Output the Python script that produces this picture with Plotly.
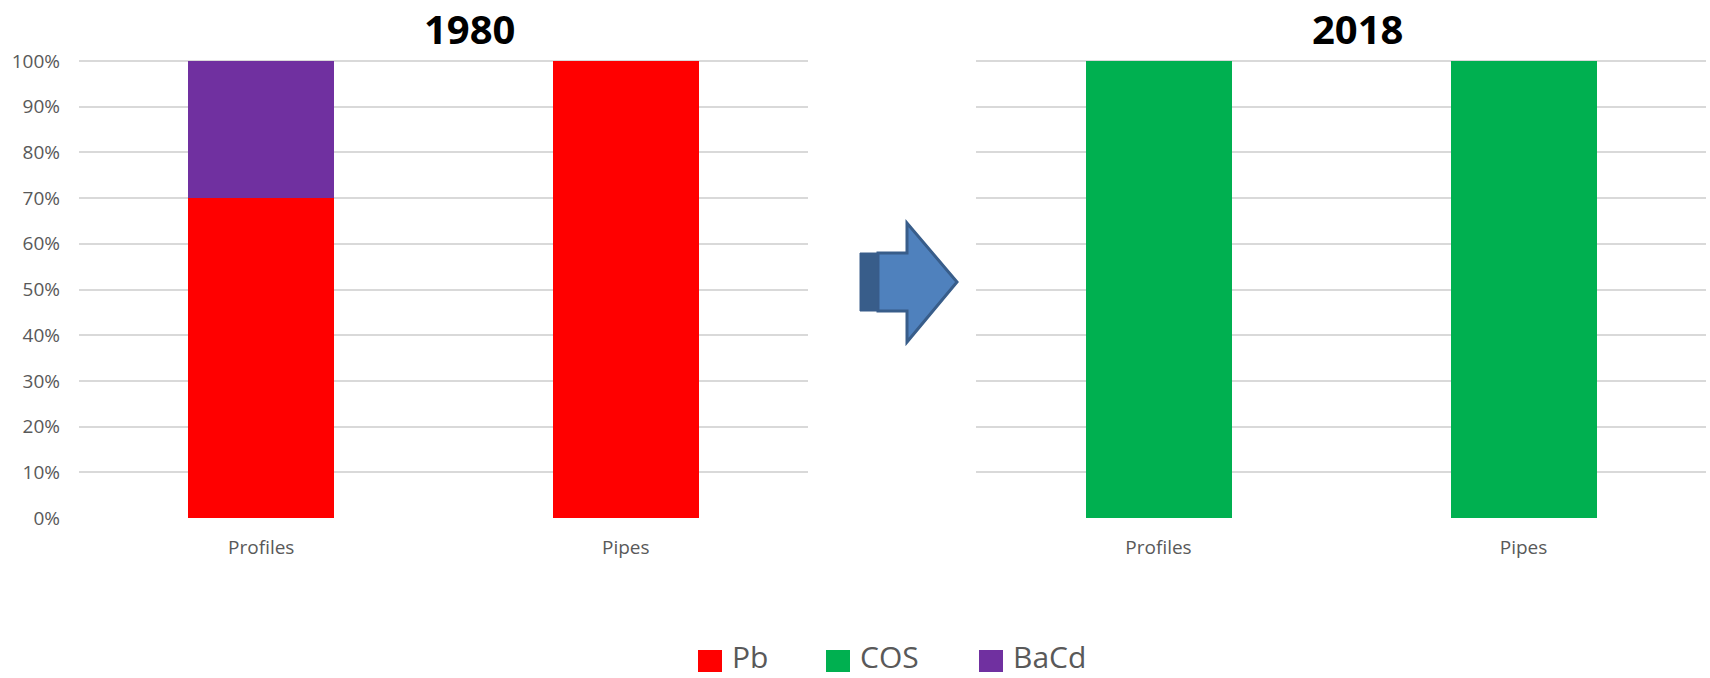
import plotly.graph_objects as go

# ---- data ----
categories = ["Profiles", "Pipes"]
years = ["1980", "2018"]
pb_1980 = [0.70, 1.00]
bacd_1980 = [0.30, 0.00]
cos_2018 = [1.00, 1.00]
y_ticks = [0, 0.1, 0.2, 0.3, 0.4, 0.5, 0.6, 0.7, 0.8, 0.9, 1.0]

series_colors = {"Pb": "#FF0000", "COS": "#00B050", "BaCd": "#7030A0"}

W, H = 1710, 678


def px(x):
    return x / W


def py(y):
    return 1 - y / H


fig = go.Figure()

fig.add_trace(go.Bar(x=categories, y=pb_1980, name="Pb",
                     marker=dict(color=series_colors["Pb"], line_width=0),
                     xaxis="x", yaxis="y", showlegend=False))
fig.add_trace(go.Bar(x=categories, y=bacd_1980, name="BaCd",
                     marker=dict(color=series_colors["BaCd"], line_width=0),
                     xaxis="x", yaxis="y", showlegend=False))
fig.add_trace(go.Bar(x=categories, y=cos_2018, name="COS",
                     marker=dict(color=series_colors["COS"], line_width=0),
                     xaxis="x2", yaxis="y2", showlegend=False))

grid = "#D9D9D9"
label_font = dict(family="Open Sans", size=19, color="#595959")
cat_font = dict(family="Open Sans", size=19, color="#595959")

# value axis: 0 at y=518px, 1.0 at y=61px, with a little headroom so the
# 100% gridline is not clipped at the plot edge
y_top = 1.01
zero_px, one_px = 518, 61
top_px = zero_px - (zero_px - one_px) * y_top
y_dom = [py(zero_px), py(top_px)]
common_y = dict(range=[0, y_top], tickvals=y_ticks, tickformat=".0%",
                showgrid=True, gridcolor=grid, gridwidth=2, zeroline=False,
                showline=False, domain=y_dom, fixedrange=True, automargin=False)
common_x = dict(showgrid=False, zeroline=False, showline=False,
                tickfont=cat_font, ticks="outside", ticklen=12,
                tickcolor="rgba(0,0,0,0)", automargin=False)

fig.update_layout(
    width=W, height=H,
    margin=dict(l=0, r=0, t=0, b=0, autoexpand=False),
    paper_bgcolor="white", plot_bgcolor="white",
    barmode="stack", bargap=0.6, showlegend=False,
    xaxis=dict(domain=[px(79), px(808)], anchor="y", **common_x),
    yaxis=dict(anchor="x", tickfont=label_font, ticklabelstandoff=18, **common_y),
    xaxis2=dict(domain=[px(976), px(1706)], anchor="y2", **common_x),
    yaxis2=dict(anchor="x2", showticklabels=False, **common_y),
)

# panel titles
for yr, cx in zip(years, [469, 1357]):
    fig.add_annotation(x=px(cx), y=py(29), xref="paper", yref="paper",
                       text=f"<b>{yr}</b>", showarrow=False,
                       xanchor="center", yanchor="middle",
                       font=dict(family="Open Sans", size=40, color="#000000"))

# legend drawn as swatches + labels along the bottom edge
legend_items = [("Pb", 698), ("COS", 826), ("BaCd", 979)]
for name, x0 in legend_items:
    fig.add_shape(type="rect", xref="paper", yref="paper",
                  x0=px(x0), x1=px(x0 + 24), y0=py(672), y1=py(650),
                  fillcolor=series_colors[name], line_width=0)
    fig.add_annotation(x=px(x0 + 33), y=0, xref="paper", yref="paper",
                       text=name, showarrow=False, xanchor="left", yanchor="bottom",
                       borderpad=0,
                       font=dict(family="Open Sans", size=30, color="#595959"))

# block arrow between the panels
arrow_pts = [(878, 253), (907, 253), (907, 223), (957, 282),
             (907, 342), (907, 311), (878, 311)]
path = "M " + " L ".join(f"{px(x):.5f},{py(y):.5f}" for x, y in arrow_pts) + " Z"
fig.add_shape(type="path", xref="paper", yref="paper", path=path,
              fillcolor="#4F81BD", line=dict(color="#385D8A", width=3))
fig.add_shape(type="rect", xref="paper", yref="paper",
              x0=px(860), x1=px(878), y0=py(311), y1=py(253),
              fillcolor="#385D8A", line=dict(color="#385D8A", width=1))

fig.write_html("out.html")
